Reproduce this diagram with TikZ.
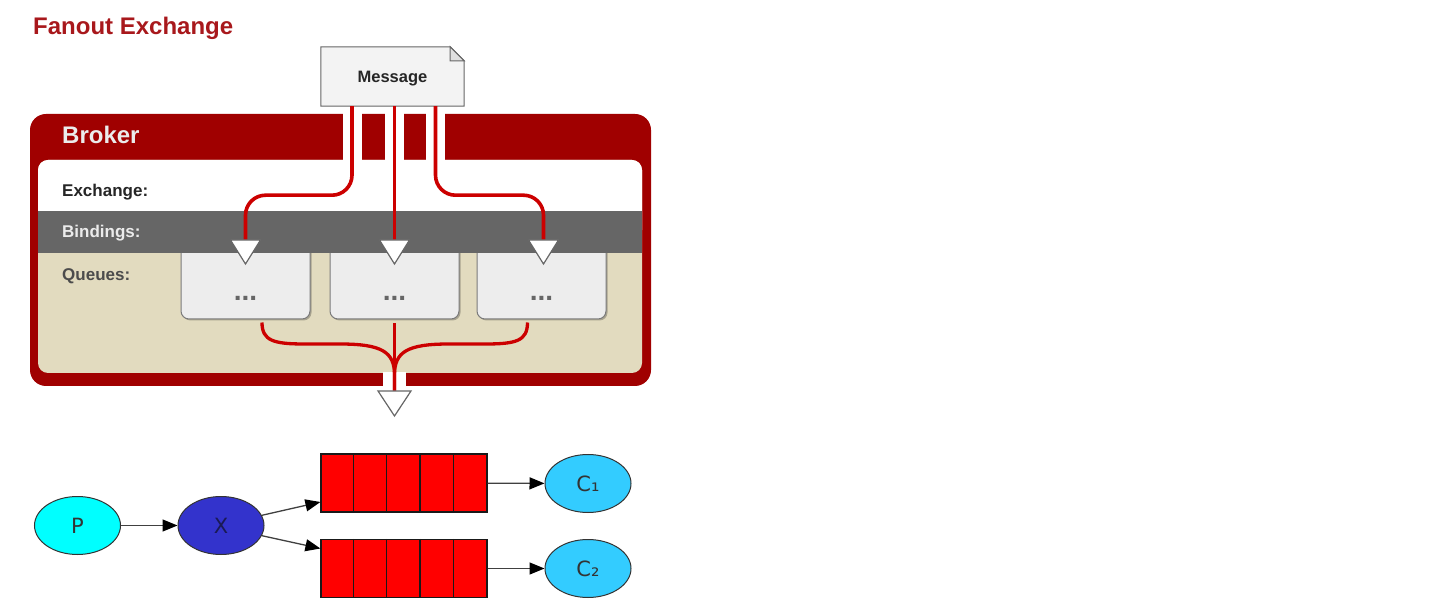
\documentclass[tikz,border=0pt]{standalone}
\usepackage{fontspec}
\setmainfont{Liberation Sans}
\newfontfamily\dvfont{DejaVu Sans}
\usetikzlibrary{arrows.meta,shadows,shapes.geometric,backgrounds}
\definecolor{titlered}{HTML}{A8181C}
\definecolor{brokerred}{HTML}{A00000}
\definecolor{linered}{HTML}{CC0000}
\definecolor{beige}{HTML}{E2DBBF}
\definecolor{bandgray}{HTML}{666666}
\definecolor{boxgray}{HTML}{EDEDED}
\definecolor{boxedge}{HTML}{7A7A7A}
\definecolor{msgfill}{HTML}{F3F3F3}
\definecolor{pcyan}{HTML}{00FFFF}
\definecolor{xblue}{HTML}{3333CC}
\definecolor{xtext}{HTML}{1A1A55}
\definecolor{ccyan}{HTML}{33CCFF}
\begin{document}
\begin{tikzpicture}[x=1pt,y=-1pt,
  flow/.style={draw=linered, line width=3.6pt},
  gap/.style={fill=white, draw=none},
  lbl/.style={anchor=base west, inner sep=0pt, font=\fontsize{17}{20}\selectfont\bfseries},
  qbox/.style={draw=boxedge, fill=boxgray, line width=1pt, rounded corners=8pt, minimum width=129pt, minimum height=84pt, inner sep=0pt, drop shadow={shadow xshift=1.5pt, shadow yshift=-1.5pt, fill=black, opacity=0.25}},
  dotlbl/.style={anchor=base, inner sep=0pt, font=\fontsize{28}{30}\selectfont\bfseries, text=black!60},
  tri/.style={draw=black!60, fill=white, line width=1.2pt, line join=miter},
  ell/.style={ellipse, draw=black!80, line width=1pt, minimum width=86pt, minimum height=58pt, inner sep=0pt, font=\dvfont\fontsize{21}{24}\selectfont, text=black!80},
  qcells/.style={rectangle, draw=black!90, fill=red, line width=1.2pt, minimum width=166pt, minimum height=58pt, inner sep=0pt},
  conn/.style={draw=black!75, line width=1.3pt, -{Triangle[length=15pt,width=12pt,fill=black,color=black]}}
]
\useasboundingbox (0,0) rectangle (1436,612);

% title
\node[anchor=base west, inner sep=0pt, font=\fontsize{24}{28}\selectfont\bfseries, text=titlered] (title) at (33,35) {Fanout Exchange};

% broker frame
\path[fill=brokerred, rounded corners=16pt] (30,114) rectangle (651,386);
\path[fill=beige, rounded corners=10pt] (38,160) rectangle (642,373);
\path[fill=white, rounded corners=10pt] (38,160) rectangle (642,240);

% queue boxes
\node[qbox] (q1) at (245.5,277) {};
\node[qbox] (q2) at (394.5,277) {};
\node[qbox] (q3) at (541.5,277) {};

% bindings band
\path[fill=bandgray] (38,211) rectangle (642,253);

% white gaps for the flows
\path[gap] (342.5,113) rectangle (361.5,161);
\path[gap] (385,113) rectangle (404,161);
\path[gap] (426,113) rectangle (445,161);
\path[gap] (383,372) rectangle (406,387);

% labels
\node[lbl, text=white!92!black, font=\fontsize{24}{28}\selectfont\bfseries] (broker) at (62,144) {Broker};
\node[lbl, text=black!85] (exch) at (62,196.5) {Exchange:};
\node[lbl, text=white!92!black] (bind) at (62,238) {Bindings:};
\node[lbl, text=black!70] (queues) at (62,280.5) {Queues:};

\node[dotlbl] (d1) at (245.5,300.5) {...};
\node[dotlbl] (d2) at (394.5,300.5) {...};
\node[dotlbl] (d3) at (541.5,300.5) {...};

% message
\node[inner sep=0pt, minimum width=143pt, minimum height=59pt, text depth=0pt, font=\fontsize{16.5}{18}\selectfont\bfseries, text=black!85] (msg) at (392.5,76.5) {Message};
\begin{pgfonlayer}{background}
\draw[draw=black!60, fill=msgfill, line width=1pt, line join=miter] (msg.north west) -- ([xshift=-14pt]msg.north east) -- ([yshift=-14pt]msg.north east) -- (msg.south east) -- (msg.south west) -- cycle;
\draw[draw=black!60, fill=black!12, line width=1pt, line join=miter] ([xshift=-14pt]msg.north east) -- ([shift={(-14pt,-14pt)}]msg.north east) -- ([yshift=-14pt]msg.north east) -- cycle;
\end{pgfonlayer}

% flow targets
\coordinate (t1) at (245.5,240);
\coordinate (t2) at (394.5,240);
\coordinate (t3) at (543.5,240);
\coordinate (tb) at (394.5,391);

% flows into queues
\draw[flow, rounded corners=20pt] ([xshift=-40.5pt]msg.south) -- ++(0,89) -| (t1);
\draw[flow] ([xshift=2pt]msg.south) -- (t2);
\draw[flow, rounded corners=20pt] ([xshift=43pt]msg.south) -- ++(0,89) -| (t3);

% flows out of queues
\draw[flow, line width=3.3pt] ([shift={(16.5,3)}]q1.south) .. controls (262,341) and (274,344) .. (305,344) -- (340,344) .. controls (382,344) and (394.5,352) .. (394.5,375) -- (tb);
\draw[flow, line width=3.3pt] ([shift={(0,4)}]q2.south) -- (tb);
\draw[flow, line width=3.3pt] ([shift={(-14,3)}]q3.south) .. controls (527.5,341) and (516,344) .. (485,344) -- (449,344) .. controls (407,344) and (394.5,352) .. (394.5,375) -- (tb);

% arrow triangles
\draw[tri] ([xshift=-15pt]t1) -- ([xshift=15pt]t1) -- ([yshift=-24pt]t1) -- cycle;
\draw[tri] ([xshift=-15pt]t2) -- ([xshift=15pt]t2) -- ([yshift=-24pt]t2) -- cycle;
\draw[tri] ([xshift=-15pt]t3) -- ([xshift=15pt]t3) -- ([yshift=-24pt]t3) -- cycle;
\draw[tri] ([xshift=-16.5pt]tb) -- ([xshift=16.5pt]tb) -- ([yshift=-25pt]tb) -- cycle;

% lower graph
\node[ell, fill=pcyan] (P) at (77.5,525.5) {P};
\node[ell, fill=xblue, text=xtext] (X) at (221,525.5) {X};
\node[qcells] (Q1) at (404,483) {};
\node[qcells] (Q2) at (404,568.5) {};
\foreach \k in {1,...,4} {
  \draw[black!90, line width=1.2pt] ([xshift=\k*33.2pt]Q1.north west) -- ([xshift=\k*33.2pt]Q1.south west);
  \draw[black!90, line width=1.2pt] ([xshift=\k*33.2pt]Q2.north west) -- ([xshift=\k*33.2pt]Q2.south west);
}
\node[ell, fill=ccyan] (C1) at (588,483.5) {C₁};
\node[ell, fill=ccyan] (C2) at (588,568.5) {C₂};

\draw[conn] (P) -- (X);
\draw[conn] (X.14) -- ([yshift=-19pt]Q1.west);
\draw[conn] (X.-14) -- ([yshift=20pt]Q2.west);
\draw[conn] (Q1) -- (C1);
\draw[conn] (Q2) -- (C2);
\end{tikzpicture}
\end{document}
